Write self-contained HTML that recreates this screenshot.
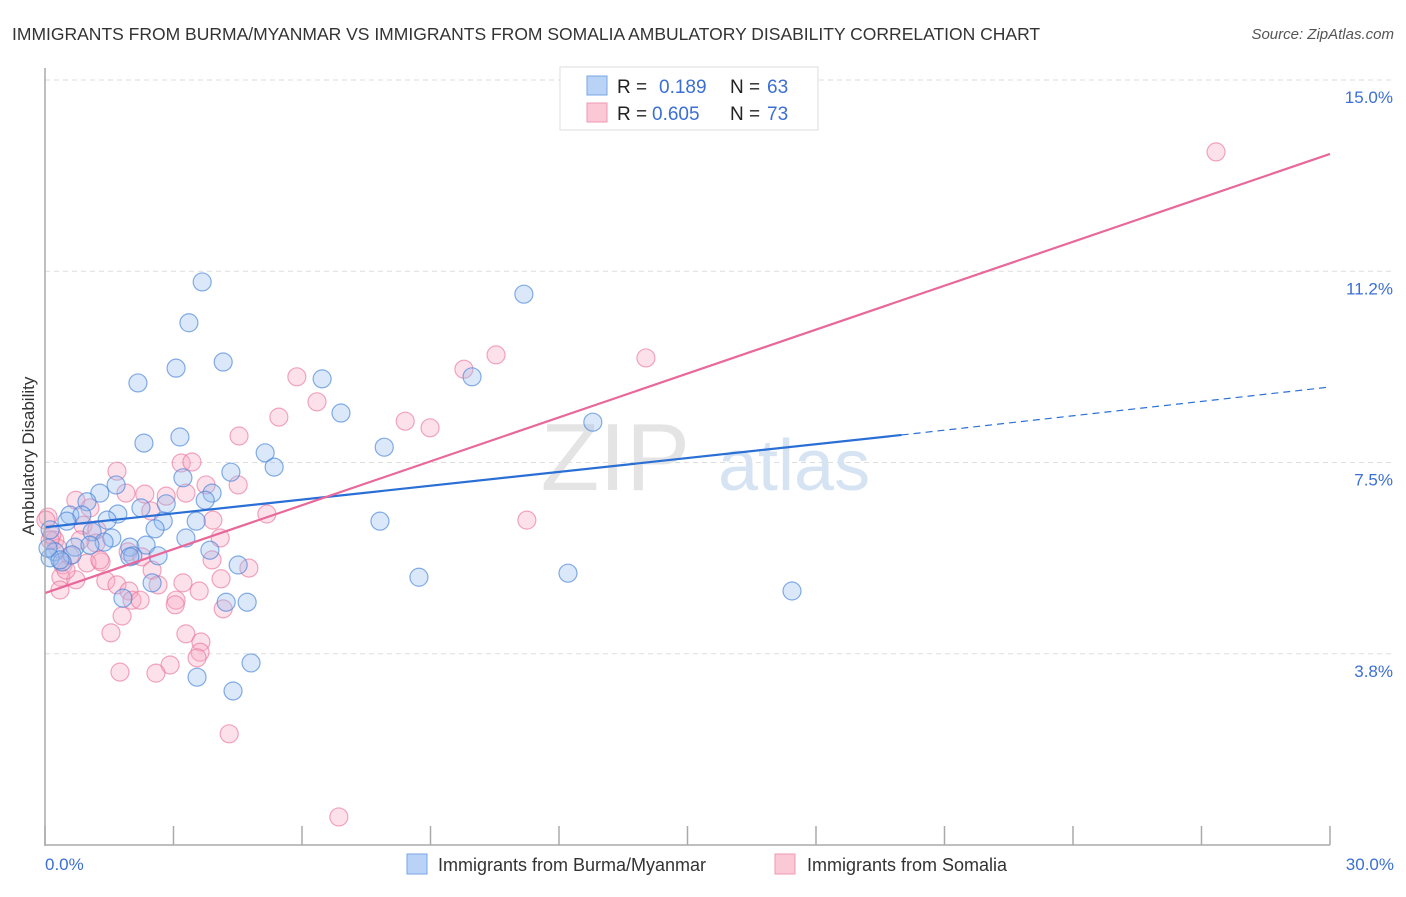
<!DOCTYPE html>
<html><head><meta charset="utf-8"><style>
body{margin:0;background:#fff;font-family:"Liberation Sans",sans-serif;}
svg text{font-family:"Liberation Sans",sans-serif;}
</style></head><body>
<svg width="1406" height="892" xmlns="http://www.w3.org/2000/svg">
<text x="12" y="40" font-size="17.5" fill="#333">IMMIGRANTS FROM BURMA/MYANMAR VS IMMIGRANTS FROM SOMALIA AMBULATORY DISABILITY CORRELATION CHART</text>
<text x="1394" y="39" font-size="15" fill="#555" font-style="italic" text-anchor="end">Source: ZipAtlas.com</text>
<g id="grid"></g>
<text x="690" y="490" font-size="96" fill="#e4e4e4" font-family="Liberation Serif" text-anchor="end">ZIP</text>
<text x="718" y="490" font-size="72" fill="#d6e3f3">atlas</text>
<g id="pts"></g>
<g id="lines"></g>
<line x1="45" y1="68" x2="45" y2="846" stroke="#aaa" stroke-width="1.5"/>
<line x1="45" y1="845" x2="1330" y2="845" stroke="#aaa" stroke-width="1.5"/>
<text x="0" y="0" transform="translate(34,456) rotate(-90)" font-size="17" fill="#333" text-anchor="middle">Ambulatory Disability</text>
<text x="45" y="870" font-size="17" fill="#3b6fd4">0.0%</text>
<text x="1394" y="870" font-size="17" fill="#3b6fd4" text-anchor="end">30.0%</text>
<g>
<rect x="560" y="67" width="258" height="63" fill="#fff" stroke="#ddd"/>
<rect x="587" y="76" width="20" height="19" fill="#b8d3f5" stroke="#7aa6e6"/>
<rect x="587" y="103" width="20" height="19" fill="#fbc8d6" stroke="#ef9ab2"/>
<text x="617" y="93" font-size="19" fill="#222">R = </text><text x="659" y="93" font-size="19" fill="#3b6fd4">0.189</text>
<text x="730" y="93" font-size="19" fill="#222">N = </text><text x="767" y="93" font-size="19" fill="#3b6fd4">63</text>
<text x="617" y="120" font-size="19" fill="#222">R = </text><text x="652" y="120" font-size="19" fill="#3b6fd4">0.605</text>
<text x="730" y="120" font-size="19" fill="#222">N = </text><text x="767" y="120" font-size="19" fill="#3b6fd4">73</text>
</g>
<g>
<rect x="407" y="854" width="20" height="20" fill="#b8d3f5" stroke="#7aa6e6"/>
<text x="438" y="871" font-size="18" fill="#333">Immigrants from Burma/Myanmar</text>
<rect x="775" y="854" width="20" height="20" fill="#fbc8d6" stroke="#ef9ab2"/>
<text x="807" y="871" font-size="18" fill="#333">Immigrants from Somalia</text>
</g>
</svg>
<script>
const yTicks=[15.0,11.25,7.5,3.75];
const yTickLabels=["15.0%","11.2%","7.5%","3.8%"];
const xTicks=[0,3,6,9,12,15,18,21,24,27,30];
const blueX=[202,189,524,223,176,138,322,472,341,593,180,144,384,265,274,231,183,116,100,212,205,87,166,141,118,70,82,107,163,196,380,67,155,50,92,186,112,130,146,75,210,104,55,72,133,158,50,62,238,419,568,152,123,226,247,792,251,197,233,60,90,130,48].map(p=>+((p-45)/42.83).toFixed(2));
const blueY=[282,323,294,362,368,383,379,377,413,422,437,443,447,453,467,472,478,485,493,493,500,502,504,508,514,515,515,520,521,521,521,521,529,530,532,538,538,547,545,547,550,542,552,555,556,556,558,562,565,577,573,583,598,602,602,591,663,677,691,560,545,557,548].map(p=>+((845-p)/51).toFixed(2));
const pinkX=[1216,496,646,464,297,317,279,405,430,239,181,192,117,238,206,126,145,186,166,76,90,151,267,213,527,48,83,97,220,55,52,96,128,142,101,63,212,152,87,249,61,221,76,106,183,117,158,129,199,176,132,223,122,111,186,201,200,197,170,120,156,229,339,58,70,46,50,80,66,100,140,175,60].map(p=>+((p-45)/42.83).toFixed(2));
const pinkY=[152,355,358,369,377,402,417,421,428,436,463,462,471,485,485,493,494,493,496,500,508,511,514,520,520,517,525,530,538,540,535,543,552,557,562,565,560,570,563,568,577,579,580,581,583,585,585,591,591,600,600,609,616,633,634,642,652,658,665,672,673,734,817,548,556,520,540,540,570,560,600,605,590].map(p=>+((845-p)/51).toFixed(2));
const blueTrend=[[0,6.23],[20,8.04],[30,8.98]];
const pinkTrend=[[0,4.94],[30,13.55]];
const sx=v=>45+v*42.833, sy=v=>845-v*51;
const NS='http://www.w3.org/2000/svg';
function mk(t,a,p){const e=document.createElementNS(NS,t);for(const k in a)e.setAttribute(k,a[k]);p.appendChild(e);return e;}
const grid=document.getElementById('grid');
yTicks.forEach((v,i)=>{
 const l=mk('line',{x1:45,x2:1394,y1:sy(v),y2:sy(v),stroke:'#ddd','stroke-dasharray':'5,4'},grid);
 
 
 const t=mk('text',{x:1393,y:sy(v)+23,'font-size':17,fill:'#3b6fd4','text-anchor':'end'},grid);
 t.textContent=yTickLabels[i];
 
 
});
xTicks.forEach(v=>{
 const l=mk('line',{x1:sx(v),x2:sx(v),y1:826,y2:845,stroke:'#aaa','stroke-width':1.5},grid);
 
 
});
const pts=document.getElementById('pts');
pinkX.forEach((x,i)=>{
 const c=mk('circle',{cx:sx(x),cy:sy(pinkY[i]),r:9,fill:'rgba(248,170,195,0.35)',stroke:'rgba(232,110,150,0.6)','stroke-width':1.2},pts);
 
 
});
blueX.forEach((x,i)=>{
 const c=mk('circle',{cx:sx(x),cy:sy(blueY[i]),r:9,fill:'rgba(150,190,240,0.35)',stroke:'rgba(70,130,215,0.65)','stroke-width':1.2},pts);
 
 
});
const lines=document.getElementById('lines');
let l=mk('line',{x1:sx(blueTrend[0][0]),y1:sy(blueTrend[0][1]),x2:sx(blueTrend[1][0]),y2:sy(blueTrend[1][1]),stroke:'#2a6fd6','stroke-width':2.2},lines);


l=mk('line',{x1:sx(blueTrend[1][0]),y1:sy(blueTrend[1][1]),x2:sx(blueTrend[2][0]),y2:sy(blueTrend[2][1]),stroke:'#2a6fd6','stroke-width':1.2,'stroke-dasharray':'7,5'},lines);


l=mk('line',{x1:sx(pinkTrend[0][0]),y1:sy(pinkTrend[0][1]),x2:sx(pinkTrend[1][0]),y2:sy(pinkTrend[1][1]),stroke:'#e8689a','stroke-width':2.2},lines);


</script>
</body></html>
